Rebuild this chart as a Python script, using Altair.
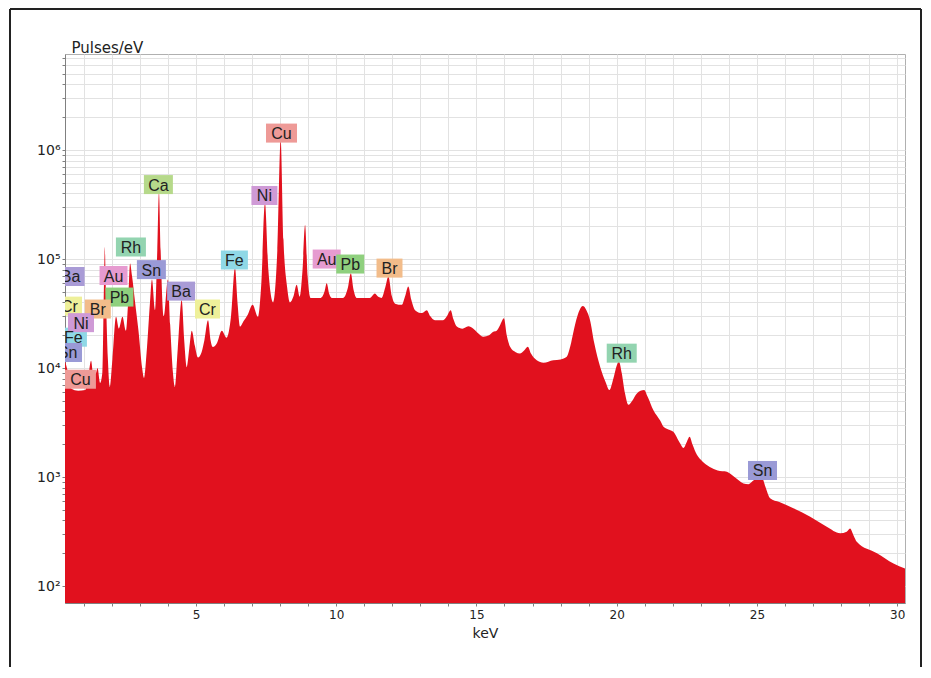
import altair as alt
import pandas as pd

# ---- spectrum outline (keV, pulses/eV) ----
kev = [0.33, 0.42, 0.55, 0.80, 1.05, 1.15, 1.26, 1.33, 1.42, 1.49, 1.58, 1.66, 1.72, 1.75, 1.78,
       1.86, 1.93, 2.02, 2.15, 2.25, 2.38, 2.50, 2.58, 2.65, 2.72, 2.83, 2.95, 3.08, 3.15, 3.25,
       3.36, 3.43, 3.54, 3.62, 3.68, 3.74, 3.85, 4.00, 4.08, 4.18, 4.25, 4.35, 4.49, 4.58, 4.67,
       4.76, 4.85, 4.96, 5.07, 5.20, 5.30, 5.43, 5.52, 5.60, 5.75, 5.92, 6.09, 6.25, 6.39, 6.48,
       6.57, 6.70, 6.85, 7.02, 7.21, 7.33, 7.46, 7.58, 7.75, 7.90, 8.02, 8.12, 8.25, 8.35, 8.47,
       8.59, 8.70, 8.80, 8.89, 8.98, 9.09, 9.45, 9.58, 9.66, 9.75, 9.84, 10.25, 10.42, 10.52, 10.62,
       10.73, 11.20, 11.38, 11.50, 11.62, 11.75, 11.86, 11.98, 12.10, 12.34, 12.45, 12.57, 12.68, 12.81, 13.05,
       13.23, 13.35, 13.52, 13.81, 13.95, 14.08, 14.18, 14.30, 14.50, 14.71, 14.89, 15.05, 15.25, 15.45, 15.60,
       15.72, 15.85, 15.98, 16.08, 16.20, 16.40, 16.55, 16.70, 16.83, 16.95, 17.15, 17.39, 17.74, 18.00, 18.22,
       18.35, 18.45, 18.60, 18.79, 18.92, 19.05, 19.20, 19.41, 19.60, 19.74, 19.88, 20.00, 20.08, 20.18, 20.30,
       20.42, 20.55, 20.72, 20.85, 20.98, 21.10, 21.31, 21.55, 21.67, 21.90, 22.02, 22.26, 22.38, 22.50, 22.60,
       22.70, 22.86, 23.05, 23.32, 23.60, 23.93, 24.20, 24.52, 24.70, 24.85, 25.00, 25.20, 25.30, 25.47, 25.80,
       26.30, 26.90, 27.49, 27.97, 28.20, 28.32, 28.45, 28.56, 29.28, 29.87, 30.28]
pulses = [11700, 9500, 6500, 6200, 6300, 8000, 11700, 9000, 8800, 10000, 7300, 9000, 60000, 129000, 60000,
          12000, 6700, 12000, 29500, 23000, 29500, 22000, 40000, 91000, 70000, 40000, 22000, 10000, 8100, 15000,
          40000, 65000, 34000, 120000, 410000, 120000, 30000, 65000, 25000, 9000, 6700, 15000, 42000, 18000, 10200,
          15000, 22000, 16000, 12500, 14000, 18000, 27500, 18000, 15600, 17000, 22000, 19000, 30000, 83000, 40000,
          24000, 27000, 31000, 38000, 29500, 60000, 325000, 80000, 40000, 120000, 1230000, 150000, 55000, 40000, 45000,
          58000, 45000, 80000, 205000, 70000, 44000, 44000, 50000, 60000, 48000, 44000, 44000, 55000, 74000, 52000,
          44000, 44000, 48400, 45000, 44000, 55000, 69000, 46000, 39000, 38000, 45000, 56000, 42000, 34000, 32000,
          34000, 30000, 27500, 27500, 30000, 34000, 28000, 24000, 23000, 24200, 23000, 21000, 19400, 20000, 21500,
          22000, 25000, 28600, 20000, 15700, 14000, 13600, 14500, 15700, 13500, 11800, 11200, 11800, 12000, 12700,
          16000, 21000, 30000, 37000, 34000, 27500, 17000, 10300, 7500, 6300, 8000, 10500, 11500, 9000, 5800,
          4600, 5000, 5850, 6200, 6300, 5500, 4100, 3300, 2900, 2700, 2600, 2040, 1850, 2100, 2340,
          2000, 1600, 1400, 1240, 1150, 1120, 1000, 875, 860, 920, 970, 960, 820, 640, 590,
          517, 432, 350, 305, 315, 338, 290, 255, 200, 161, 145]

# ---- element labels (name, keV, pulses/eV of box centre) ----
label_names = ["Cu", "Ca", "Ni", "Rh", "Sn", "Fe", "Ba", "Cr", "Au", "Pb", "Br",
               "Ba", "Cr", "Fe", "Ni", "Sn", "Cu",
               "Au", "Pb", "Br", "Rh", "Sn"]
label_kev = [8.05, 3.66, 7.44, 2.68, 3.41, 6.37, 4.47, 5.41, 2.06, 2.27, 1.50,
             0.53, 0.49, 0.63, 0.90, 0.42, 0.88,
             9.66, 10.50, 11.90, 20.18, 25.20]
label_pulses = [1430000, 482000, 383000, 129000, 80000, 98000, 50800, 34800, 70600, 44800, 34800,
                69200, 37000, 19200, 26100, 13900, 7900,
                100000, 90000, 82600, 13700, 1150]

elements = ["Cu", "Ca", "Ni", "Rh", "Sn", "Fe", "Ba", "Cr", "Au", "Pb", "Br"]
element_colors = ["#ee9a97", "#b6d98a", "#cf9ad6", "#93d4b0", "#9a9ad6", "#8fd8e6",
                  "#a99bd6", "#eef09a", "#e69bd0", "#8fd07e", "#f2bc8a"]
box_widths = [31, 29, 26, 30, 29, 27, 28, 25, 28, 28, 26]

spec = pd.DataFrame({"keV": kev, "pulses": pulses})
labels = pd.DataFrame({"element": label_names, "keV": label_kev, "pulses": label_pulses})

y_ticks = [k * 10 ** n for n in range(2, 7) for k in range(1, 10) if k * 10 ** n <= 7000000]
x_ticks = list(range(1, 31))

W, H = 840, 549

x_enc = alt.X("keV:Q",
              scale=alt.Scale(domain=[0.33, 30.28], nice=False, zero=False),
              axis=alt.Axis(values=x_ticks, title="keV",
                            labelExpr="datum.value % 5 == 0 ? datum.value : ''",
                            labelOverlap=False, tickSize=3, labelPadding=3,
                            labelFontSize=12, titleFontSize=14, titlePadding=6,
                            titleFontWeight="normal", labelFont="DejaVu Sans", titleFont="DejaVu Sans",
                            gridColor="#e2e2e2", domainColor="#808080", tickColor="#808080",
                            labelColor="#222222", titleColor="#222222"))
y_enc = alt.Y("pulses:Q",
              scale=alt.Scale(type="log", domain=[70, 7600000], nice=False),
              axis=alt.Axis(values=y_ticks, title="Pulses/eV",
                            labelExpr="datum.value == 100 ? '10²' : datum.value == 1000 ? '10³' : "
                                      "datum.value == 10000 ? '10⁴' : datum.value == 100000 ? '10⁵' : "
                                      "datum.value == 1000000 ? '10⁶' : ''",
                            labelOverlap=False, tickSize=3, labelPadding=2,
                            labelFontSize=14, titleFontSize=15, titleFontWeight="normal",
                            labelFont="DejaVu Sans", titleFont="DejaVu Sans",
                            titleAngle=0, titleAlign="left", titleBaseline="alphabetic",
                            titleX=6, titleY=-2,
                            gridColor="#e2e2e2", domainColor="#808080", tickColor="#808080",
                            labelColor="#222222", titleColor="#222222"))

area = alt.Chart(spec).mark_area(color="#e1111e", clip=True, interpolate="monotone").encode(
    x=x_enc, y=y_enc, y2=alt.datum(10))

shape_paths = ["M{a},-0.679L{b},-0.679L{b},0.679L{a},0.679Z".format(a=-w / 28, b=w / 28)
               for w in box_widths]

boxes = alt.Chart(labels).mark_point(filled=True, opacity=1, strokeWidth=0, size=784, clip=True).encode(
    x=x_enc, y=y_enc,
    color=alt.Color("element:N", scale=alt.Scale(domain=elements, range=element_colors), legend=None),
    shape=alt.Shape("element:N", scale=alt.Scale(domain=elements, range=shape_paths), legend=None))

texts = alt.Chart(labels).mark_text(font="Liberation Sans", fontSize=16, color="#222222",
                                    align="center", baseline="middle", dy=1, clip=True).encode(
    x=x_enc, y=y_enc, text="element:N")

frame_df = pd.DataFrame({"side": ["left", "right", "top"]})
frame_v = alt.Chart(frame_df).transform_filter("datum.side == 'left'").mark_rule(
    color="#222222", strokeWidth=2).encode(x=alt.value(-55), y=alt.value(-45), y2=alt.value(H + 64))
frame_r = alt.Chart(frame_df).transform_filter("datum.side == 'right'").mark_rule(
    color="#222222", strokeWidth=2).encode(x=alt.value(856), y=alt.value(-45), y2=alt.value(H + 64))
frame_t = alt.Chart(frame_df).transform_filter("datum.side == 'top'").mark_rule(
    color="#222222", strokeWidth=2).encode(x=alt.value(-55), x2=alt.value(856), y=alt.value(-45))

chart = alt.layer(area, boxes, texts, frame_v, frame_r, frame_t).properties(
    width=W, height=H,
    autosize=alt.AutoSizeParams(type="none"),
    padding={"left": 57, "top": 46, "right": 18, "bottom": 64},
    background="white",
).configure_view(stroke="#b0b0b0")

chart.save("out.html", embed_options={"renderer": "svg", "actions": False})
